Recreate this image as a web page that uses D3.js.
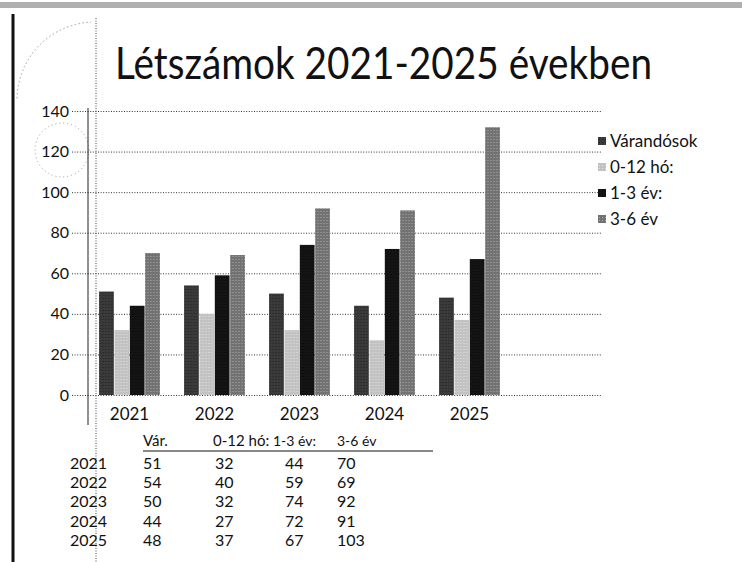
<!DOCTYPE html>
<html>
<head>
<meta charset="utf-8">
<script src="https://cdn.jsdelivr.net/npm/d3@7"></script>
<style>
  body { margin: 0; background: #fff; }
  text { font-family: Lato, "Open Sans", sans-serif; fill: #111; }
</style>
</head>
<body>
<script>
// data
const years = ["2021", "2022", "2023", "2024", "2025"];
const seriesNames = ["Várandósok", "0-12 hó:", "1-3 év:", "3-6 év"];
const barVar = [51, 54, 50, 44, 48];
const bar012 = [32, 40, 32, 27, 37];
const bar13 = [44, 59, 74, 72, 67];
const bar36 = [70, 69, 92, 91, 132];
const yTicks = [0, 20, 40, 60, 80, 100, 120, 140];

// the small table under the chart
const tableHeader = ["Vár.", "0-12 hó:", "1-3 év:", "3-6 év"];
const tableVar = [51, 54, 50, 44, 48];
const table012 = [32, 40, 32, 27, 37];
const table13 = [44, 59, 74, 72, 67];
const table36 = [70, 69, 92, 91, 103];

const title = "Létszámok 2021-2025 években";

let width = 742;
let height = 562;
const colors = ["#3a3a3a", "#c2c2c2", "#141414", "#727272"];
const dots = ["#111", "#f2f2f2", "#000", "#cfcfcf"];

const seriesValues = [barVar, bar012, bar13, bar36];
const data = years.map((yr, i) => ({
  year: yr,
  values: seriesNames.map((s, k) => ({ key: s, k: k, value: seriesValues[k][i] }))
}));

const svg = d3.select("body")
  .append("svg")
  .attr("width", width)
  .attr("height", height)
  .attr("viewBox", [0, 0, width, height]);

// halftone-like fills
const defs = svg.append("defs");
colors.forEach((c, k) => {
  const p = defs.append("pattern")
    .attr("id", "fill" + k)
    .attr("width", 3)
    .attr("height", 3)
    .attr("patternUnits", "userSpaceOnUse");
  p.append("rect").attr("width", 3).attr("height", 3).attr("fill", c);
  p.append("rect").attr("x", 1).attr("y", 1).attr("width", 1).attr("height", 1)
    .attr("fill", dots[k]).attr("opacity", 0.6);
});

// scan edges
svg.append("rect")
  .attr("x", 0).attr("y", 2).attr("width", width).attr("height", 6)
  .attr("fill", "#b0b0b0");
svg.append("line")
  .attr("x1", 13).attr("x2", 13).attr("y1", 14).attr("y2", height)
  .attr("stroke", "#111").attr("stroke-width", 3);
svg.append("line")
  .attr("x1", 96).attr("x2", 96).attr("y1", 18).attr("y2", height)
  .attr("stroke", "#444").attr("stroke-dasharray", "1,1.5");
svg.append("circle")
  .attr("cx", 62).attr("cy", 150).attr("r", 27)
  .attr("fill", "none").attr("stroke", "#999").attr("stroke-dasharray", "1,3");
svg.append("path")
  .attr("d", d3.arc()({ innerRadius: 78, outerRadius: 78, startAngle: -1.55, endAngle: -0.05 }))
  .attr("transform", "translate(95,100)")
  .attr("fill", "none").attr("stroke", "#aaa").attr("stroke-dasharray", "1,3");

// title
svg.append("text")
  .attr("x", 115)
  .attr("y", 79)
  .attr("font-size", 45)
  .attr("textLength", 537)
  .attr("lengthAdjust", "spacingAndGlyphs")
  .text(title);

// scales
const x0 = d3.scaleBand()
  .domain(years)
  .range([87, 512])
  .paddingInner(0.27)
  .paddingOuter(0.135);

const x1 = d3.scaleBand()
  .domain(seriesNames)
  .range([0, x0.bandwidth()])
  .padding(0.04);

const y = d3.scaleLinear()
  .domain([0, 140])
  .range([395, 111]);

// gridlines + y labels
svg.append("g")
  .attr("transform", "translate(72,0)")
  .call(d3.axisLeft(y).tickValues(yTicks).tickSize(-(602 - 72)).tickPadding(3))
  .call(g => g.select(".domain").remove())
  .call(g => g.selectAll(".tick line")
    .attr("stroke", "#333")
    .attr("stroke-dasharray", "1,1.6"))
  .call(g => g.selectAll(".tick text")
    .attr("font-size", 16)
    .attr("fill", "#111"));

// y axis line
svg.append("line")
  .attr("x1", 88).attr("x2", 88).attr("y1", 108).attr("y2", 425)
  .attr("stroke", "#222");

// bars
svg.append("g")
  .selectAll("g")
  .data(data)
  .join("g")
  .attr("transform", d => `translate(${x0(d.year)},0)`)
  .selectAll("rect")
  .data(d => d.values)
  .join("rect")
  .attr("x", d => x1(d.key))
  .attr("y", d => y(d.value))
  .attr("width", x1.bandwidth())
  .attr("height", d => y(0) - y(d.value))
  .attr("fill", d => `url(#fill${d.k})`);

// x labels
svg.append("g")
  .attr("transform", `translate(0,${y(0)})`)
  .call(d3.axisBottom(x0).tickSize(0).tickPadding(13))
  .call(g => g.select(".domain").remove())
  .call(g => g.selectAll(".tick text")
    .attr("font-size", 17)
    .attr("fill", "#111"));

// legend
const legend = svg.append("g")
  .selectAll("g")
  .data(seriesNames)
  .join("g")
  .attr("transform", (d, i) => `translate(598,${141 + i * 26})`);

legend.append("rect")
  .attr("y", -4)
  .attr("width", 8)
  .attr("height", 8)
  .attr("fill", (d, i) => `url(#fill${i})`);

legend.append("text")
  .attr("x", 12)
  .attr("dy", "0.35em")
  .attr("font-size", 17)
  .text(d => d);

// table
const colX = [143, 215, 285, 337];
const headX = [143, 213, 273, 337];
const tableCols = [tableVar, table012, table13, table36];

svg.append("g")
  .selectAll("text")
  .data(tableHeader)
  .join("text")
  .attr("x", (d, i) => headX[i])
  .attr("y", 446)
  .attr("font-size", (d, i) => i >= 2 ? 14 : 15)
  .text(d => d);

svg.append("line")
  .attr("x1", 143).attr("x2", 433).attr("y1", 451).attr("y2", 451)
  .attr("stroke", "#111");

const rows = svg.append("g")
  .selectAll("g")
  .data(years)
  .join("g")
  .attr("transform", (d, i) => `translate(0,${469 + i * 19.2})`);

rows.append("text")
  .attr("x", 70)
  .attr("font-size", 16)
  .text(d => d);

rows.selectAll(".val")
  .data((d, i) => tableCols.map(col => col[i]))
  .join("text")
  .attr("class", "val")
  .attr("x", (d, k) => colX[k])
  .attr("font-size", 16)
  .text(d => d);
</script>
</body>
</html>
